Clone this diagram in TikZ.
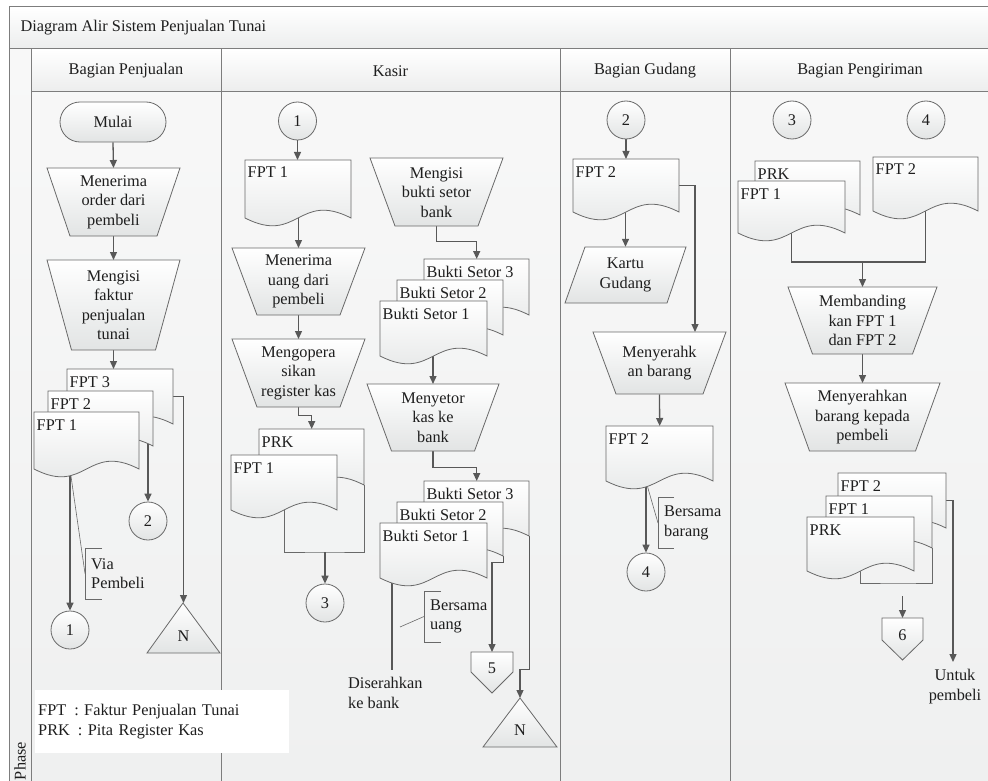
\documentclass[tikz,border=0pt]{standalone}
\usepackage{fontspec}
\setmainfont{Liberation Serif}
\usetikzlibrary{arrows.meta,positioning,calc,backgrounds}

\definecolor{garisLajur}{RGB}{125,125,125}
\definecolor{garisBentuk}{RGB}{105,105,105}
\definecolor{garisPanah}{RGB}{88,88,88}
\definecolor{isiBawah}{RGB}{226,228,228}
\definecolor{latarAtas}{RGB}{248,248,248}
\definecolor{latarBawah}{RGB}{239,240,240}
\definecolor{kepalaBawah}{RGB}{236,237,237}
\definecolor{warnaTeks}{RGB}{30,30,30}

\pgfdeclarelayer{latar}
\pgfdeclarelayer{garis}
\pgfsetlayers{latar,garis,main}

\tikzset{
	bentukisi/.style={draw=garisBentuk, line width=0.8pt, top color=white, bottom color=isiBawah},
	bentukgaris/.style={draw=garisBentuk, line width=0.8pt},
	lingkaran/.style={circle, bentukisi, minimum size=38pt, inner sep=0pt},
	terminal/.style={rectangle, rounded corners=20pt, bentukisi, minimum width=106pt, minimum height=40pt},
	alir/.style={draw=garisPanah, line width=1.3pt, -{Triangle[length=8pt,width=7pt]}},
	polos/.style={draw=garisPanah, line width=1.3pt},
	catatan/.style={draw=garisBentuk, line width=0.6pt},
	kotakkosong/.style={inner sep=0pt},
	keterangan/.style={inner xsep=6pt, inner ysep=0pt, minimum height=51pt, align=left, anchor=west},
}

\def\Gel{27}
% dokumen: nama, x kiri, y atas, lebar, tinggi, label
\newcommand{\Dokumen}[6]{%
	\path[bentukisi] (#2,#3) -- ({#2+#4},#3) -- ({#2+#4},{#3+#5})
		.. controls ({#2+#4/2},{#3+#5-\Gel}) and ({#2+#4/2},{#3+#5+\Gel}) .. (#2,{#3+#5}) -- cycle;
	\node[kotakkosong, anchor=north west, minimum width=#4pt, minimum height=#5pt] (#1) at (#2,#3) {};
	\node[inner sep=0pt, anchor=base west] (#1-teks) at ({#2+2.5},{#3+18}) {#6};
}
% operasi manual: nama, x tengah, y atas, lebar atas, lebar bawah, tinggi, teks
\newcommand{\Manual}[7]{%
	\path[bentukisi] ({#2-#4/2},#3) -- ({#2+#4/2},#3) -- ({#2+#5/2},{#3+#6}) -- ({#2-#5/2},{#3+#6}) -- cycle;
	\node[kotakkosong, anchor=north, minimum width=#4pt, minimum height=#6pt, align=center] (#1) at (#2,#3) {#7};
}

\begin{document}
\begin{tikzpicture}[x=1pt, y=-1pt, font=\fontsize{16.3}{19.5}\selectfont, text=warnaTeks]
		\def\xKiri{9}
		\def\xLajurA{31}
		\def\xLajurB{221}
		\def\xLajurC{560}
		\def\xLajurD{730}
		\def\xKanan{992}
		\def\yJudul{7}
		\def\yKepala{49}
		\def\yIsi{92}
		\def\yBawah{785}

\useasboundingbox (0,0) rectangle (988,781);

\begin{pgfonlayer}{latar}
\fill[top color=latarAtas, bottom color=latarBawah] (\xKiri,\yKepala) rectangle (\xKanan,\yBawah);
\fill[top color=white, bottom color=kepalaBawah] (\xKiri,\yJudul) rectangle (\xKanan,\yKepala);
\fill[top color=white, bottom color=kepalaBawah] (\xLajurA,\yKepala) rectangle (\xKanan,\yIsi);
\draw[garisLajur, line width=1pt] (\xKiri,\yJudul) rectangle (\xKanan,\yBawah);
\draw[garisLajur, line width=1pt] (\xKiri,\yKepala) -- (\xKanan,\yKepala);
\draw[garisLajur, line width=1pt] (\xLajurA,\yIsi) -- (\xKanan,\yIsi);
\draw[garisLajur, line width=1pt] (\xLajurA,\yKepala) -- (\xLajurA,\yBawah);
\draw[garisLajur, line width=1pt] (\xLajurB,\yKepala) -- (\xLajurB,\yBawah);
\draw[garisLajur, line width=1pt] (\xLajurC,\yKepala) -- (\xLajurC,\yBawah);
\draw[garisLajur, line width=1pt] (\xLajurD,\yKepala) -- (\xLajurD,\yBawah);
\end{pgfonlayer}

\node[anchor=west] (judul) at (17,28) {Diagram Alir Sistem Penjualan Tunai};
\node (kepalaA) at (126,71) {Bagian Penjualan};
\node (kepalaB) at (390.5,71) {Kasir};
\node (kepalaC) at (645,71) {Bagian Gudang};
\node (kepalaD) at (860,71) {Bagian Pengiriman};
\node[rotate=90] (fase) at (20,761) {Phase};

% Bagian Penjualan
\node[terminal] (mulai) at (113,122) {Mulai};
\Manual{terimaOrder}{113.5}{168}{133}{87}{68}{Menerima\\order dari\\pembeli}
\Manual{isiFaktur}{113.5}{260}{133}{84}{90}{Mengisi\\faktur\\penjualan\\tunai}
\Dokumen{fptP3}{67}{369}{106}{55}{FPT 3}
\Dokumen{fptP2}{48}{391}{105}{55}{FPT 2}
\Dokumen{fptP1}{34}{412}{105}{57}{FPT 1}
\node[lingkaran] (lingP2) at (148,521) {2};
\node[lingkaran] (lingP1) at (70,630) {1};
\path[bentukisi] (183,603) -- (220,653) -- (147,653) -- cycle;
\node[kotakkosong, anchor=north, minimum height=66pt] (segNP) at (183.5,603) {N};
\node[keterangan] (ketVia) at (85,573.5) {Via\\Pembeli};
\node[fill=white, anchor=north west, inner xsep=3pt, text width=248pt, minimum height=63pt, align=left] (legenda) at (35,690)
	{FPT\hspace{8pt}: Faktur Penjualan Tunai\\PRK\hspace{8pt}: Pita Register Kas};

% Kasir
\node[lingkaran] (lingK1) at (297.5,121) {1};
\Dokumen{fptK1}{245}{160}{106}{58}{FPT 1}
\Manual{terimaUang}{298.5}{248}{133}{83}{67}{Menerima\\uang dari\\pembeli}
\Manual{operasi}{298.5}{339}{133}{83}{68}{Mengopera\\sikan\\register kas}
\Dokumen{prkK}{259}{429}{105}{56}{PRK}
\Dokumen{fptK1b}{231}{455}{106}{55}{FPT 1}
\coordinate (kotakK) at (325,552);
\node[lingkaran] (lingK3) at (325,603) {3};
\Manual{isiSetor}{436.5}{158}{133}{83}{68}{Mengisi\\bukti setor\\bank}
\Dokumen{setor3a}{424}{259}{105}{56}{Bukti Setor 3}
\Dokumen{setor2a}{397}{280}{106}{55}{Bukti Setor 2}
\Dokumen{setor1a}{380}{301}{107}{55}{Bukti Setor 1}
\Manual{setorKas}{433}{384}{132}{83}{67}{Menyetor\\kas ke\\bank}
\Dokumen{setor3b}{424}{481}{105}{55}{Bukti Setor 3}
\Dokumen{setor2b}{397}{502}{106}{54}{Bukti Setor 2}
\Dokumen{setor1b}{380}{523}{107}{55}{Bukti Setor 1}
\node[keterangan] (ketUang) at (424,616.5) {Bersama\\uang};
\coordinate (ujungUang) at (400,627);
\node[inner sep=0pt, anchor=north west, align=left] (serahBank) at (348,677) {Diserahkan\\ke bank};
\coordinate (pSerah) at (392,670);
\path[bentukisi] (471,652) -- (513,652) -- (513,672) -- (492,693) -- (471,672) -- cycle;
\node[kotakkosong, anchor=north, minimum width=42pt, minimum height=32pt] (off5) at (492,652) {5};
\path[bentukisi] (520,698) -- (557,747) -- (483,747) -- cycle;
\node[kotakkosong, anchor=north, minimum height=64pt] (segNK) at (520,698) {N};

% Bagian Gudang
\node[lingkaran] (lingG2) at (626,120) {2};
\Dokumen{fptG1}{573}{159}{106}{53}{FPT 2}
\path[bentukisi] (585,247) -- (686,247) -- (667,303) -- (565,303) -- cycle;
\node[kotakkosong, minimum height=56pt, align=center] (kartu) at (625.5,275) {Kartu\\Gudang};
\Manual{serahBrg}{659.5}{332}{133}{87}{62}{Menyerahk\\an barang}
\Dokumen{fptG2}{606}{426}{107}{55}{FPT 2}
\node[keterangan] (ketBarang) at (658,523) {Bersama\\barang};
\node[lingkaran] (lingG4) at (646,572) {4};

% Bagian Pengiriman
\node[lingkaran] (lingR3) at (792,120) {3};
\node[lingkaran] (lingR4) at (926,120) {4};
\Dokumen{prkR}{755}{161}{105}{54}{PRK}
\Dokumen{fptR1}{738}{181}{107}{52}{FPT 1}
\Dokumen{fptR2}{873}{157}{105}{54}{FPT 2}
\coordinate (gabung) at (862.5,262);
\Manual{banding}{862.5}{287}{149}{100}{67}{Membanding\\kan FPT 1\\dan FPT 2}
\Manual{serahBeli}{862.5}{383}{155}{106}{68}{Menyerahkan\\barang kepada\\pembeli}
\Dokumen{fptR2b}{838}{473}{108}{55}{FPT 2}
\Dokumen{fptR1b}{826}{496}{106}{52}{FPT 1}
\Dokumen{prkRb}{807}{517}{107}{54}{PRK}
\coordinate (kotakP) at (900,583);
\coordinate (mulai6) at (902.5,596);
\path[bentukisi] (882,618) -- (923,618) -- (923,640) -- (902.5,660) -- (882,640) -- cycle;
\node[kotakkosong, anchor=north, minimum width=41pt, minimum height=34pt] (off6) at (902.5,618) {6};
\coordinate (ujungBeli) at (953,662);
\node[inner sep=0pt, anchor=north, align=center] (untukBeli) at (955,669) {Untuk\\pembeli};

\begin{pgfonlayer}{garis}
% penjualan
\draw[alir] (mulai.south) -- (terimaOrder.north);
\draw[alir] (terimaOrder.south) -- (isiFaktur.north);
\draw[alir] (isiFaktur.south) -- (isiFaktur.south |- fptP3.north);
\draw[alir] (lingP1 |- fptP1.center) -- (lingP1.north);
\draw[alir] (lingP2 |- fptP2.center) -- (lingP2.north);
\draw[alir] (fptP3.east) -| (segNP.north);
\draw[catatan] (lingP1 |- fptP1.south) -- (ketVia.west);
\draw[catatan] ([xshift=17pt]ketVia.north west) -- (ketVia.north west) -- (ketVia.south west) -- ([xshift=17pt]ketVia.south west);
% kasir
\draw[alir] (lingK1.south) -- (lingK1.south |- fptK1.north);
\draw[alir] (terimaUang.north |- fptK1.center) -- (terimaUang.north);
\draw[alir] (terimaUang.south) -- (operasi.north);
\draw[alir] (operasi.south) -- ++(0,8) -| (prkK.north);
\draw[bentukgaris] (fptK1b.south) |- (kotakK) -| (prkK.south east);
\draw[alir] (kotakK) -- (lingK3.north);
\draw[alir] (isiSetor.south) -- ++(0,15) -| (setor3a.north);
\draw[alir] (setorKas.north |- setor1a.center) -- (setorKas.north);
\draw[alir] (setorKas.south) -- ++(0,16) -| (setor3b.north);
\draw[polos] (pSerah |- setor1b.center) -- (pSerah);
\draw[alir] (setor2b.south east) -- ++(0,6) -| (off5.north);
\draw[alir] (setor3b.south east) -- ++(0,133) -| (segNK.north);
\draw[catatan] (ketUang.west) -- (ujungUang);
\draw[catatan] ([xshift=17pt]ketUang.north west) -- (ketUang.north west) -- (ketUang.south west) -- ([xshift=17pt]ketUang.south west);
% gudang
\draw[alir] (lingG2.south) -- (lingG2.south |- fptG1.north);
\draw[alir] (kartu.north |- fptG1.center) -- (kartu.north);
\draw[alir] (fptG1.east) -| ([xshift=35.5pt]serahBrg.north);
\draw[alir] (serahBrg.south) -- (fptG2.north);
\draw[alir] (lingG4 |- fptG2.center) -- (lingG4.north);
\draw[catatan] (lingG4 |- fptG2.south) -- (ketBarang.west);
\draw[catatan] ([xshift=16pt]ketBarang.north west) -- (ketBarang.north west) -- (ketBarang.south west) -- ([xshift=16pt]ketBarang.south west);
% pengiriman
\draw[polos] (fptR1.south) |- (gabung) -| (fptR2.south);
\draw[alir] (gabung) -- (banding.north);
\draw[alir] (banding.south) -- (serahBeli.north);
\draw[bentukgaris] (prkRb.south) |- (kotakP) -| (fptR1b.south east);
\draw[alir] (fptR2b.east) -| (ujungBeli);
\draw[alir] (mulai6) -- (off6.north);
\end{pgfonlayer}

\end{tikzpicture}
\end{document}
